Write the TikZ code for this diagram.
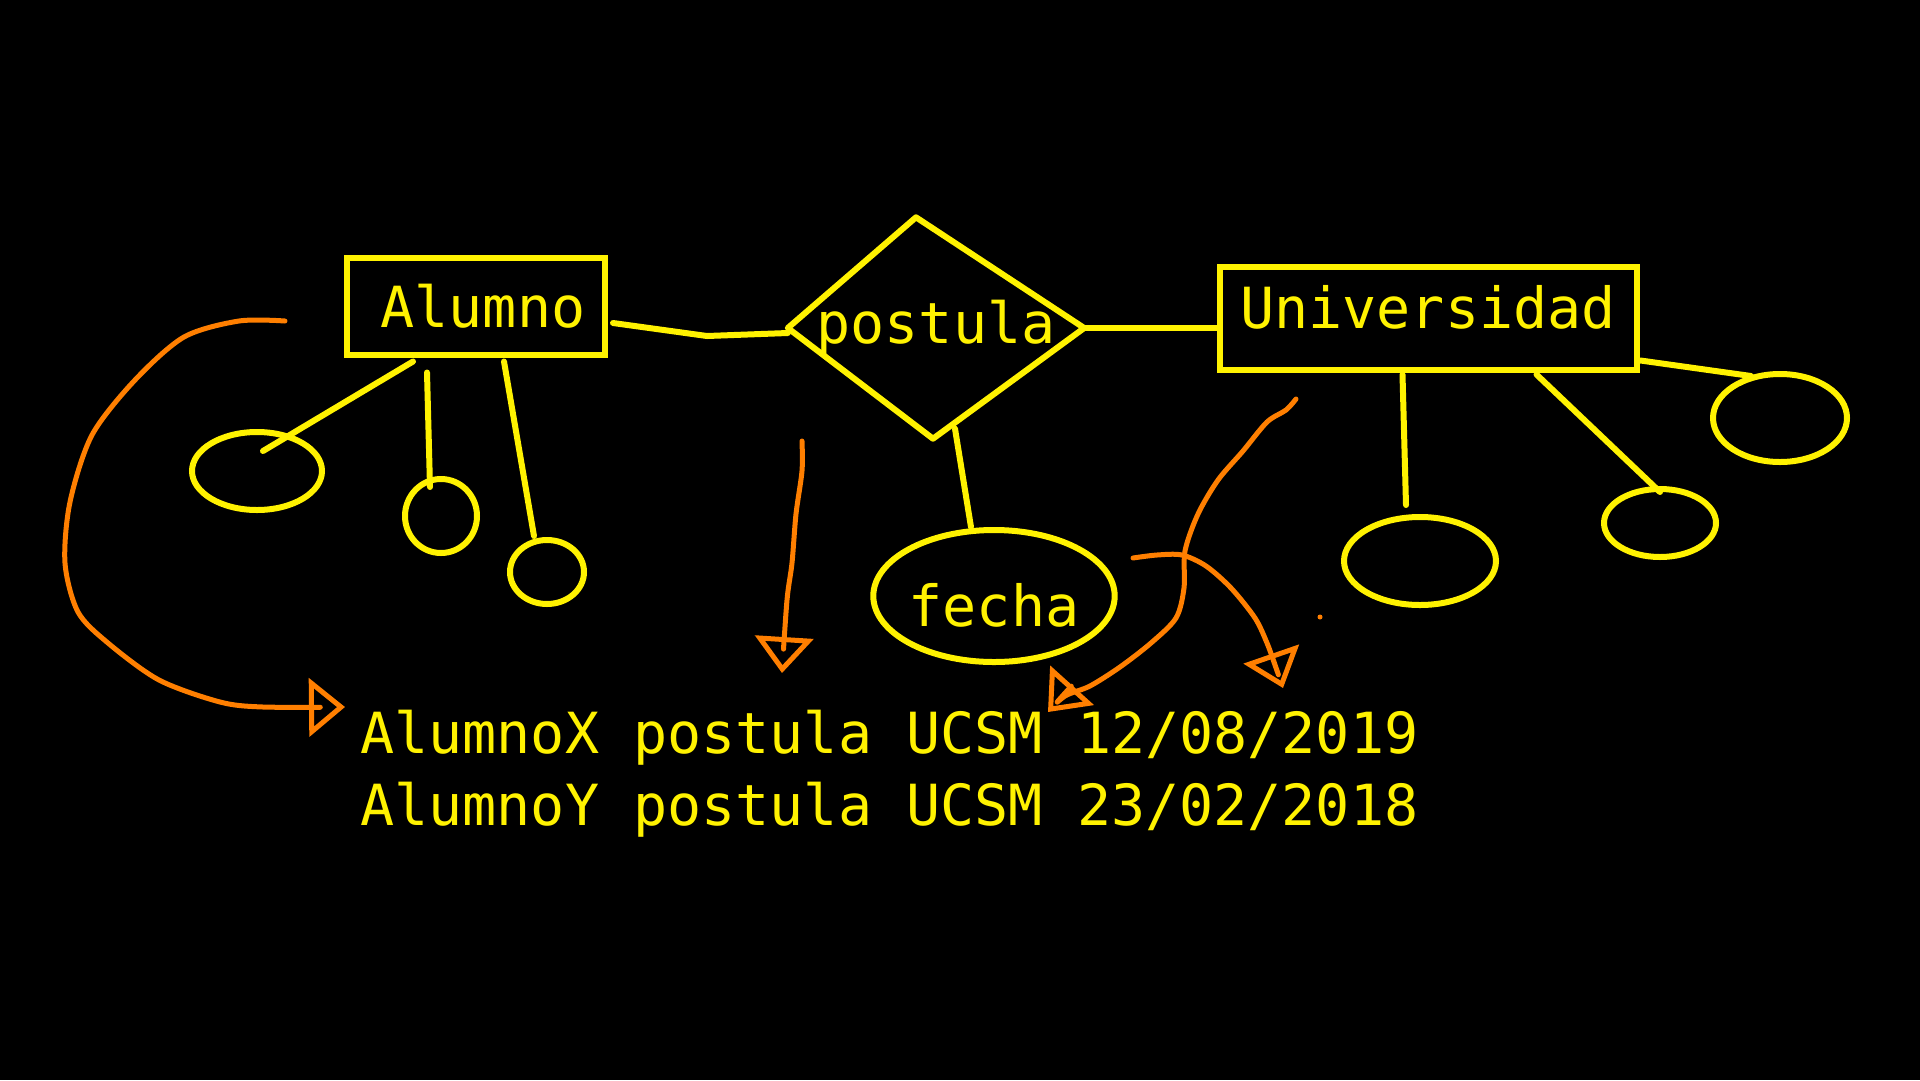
\documentclass[tikz,border=0pt]{standalone}
\usepackage{fontspec}
\setmonofont{DejaVu Sans Mono}
\usetikzlibrary{shapes.geometric,arrows.meta,calc}
\definecolor{chalkyellow}{RGB}{255,242,0}
\definecolor{chalkorange}{RGB}{255,127,0}
\newcommand{\boardfont}{\ttfamily\fontsize{56.7}{68}\selectfont}

\begin{document}
\begin{tikzpicture}[x=1pt, y=-1pt,
    every node/.style={inner sep=0pt, text=chalkyellow, font=\boardfont},
    entity/.style={draw=chalkyellow, line width=6pt, rectangle},
    relation/.style={diamond, aspect=1.3, inner sep=-15pt},
    attrib/.style={draw=chalkyellow, line width=6pt, ellipse},
    link/.style={draw=chalkyellow, line width=6pt, line cap=round, line join=round},
    scribble/.style={draw=chalkorange, line width=5pt, line cap=round, line join=round,
      -{Triangle[open, length=36pt, width=58pt, line width=5pt]}}]
        \fill[black] (0,0) rectangle (1920,1080);
        \useasboundingbox (0,0) rectangle (1920,1080);

        \node[entity, minimum width=258pt, minimum height=97pt] (al) at (476,306) {\hspace*{14pt}Alumno};
        \node[relation, minimum width=296pt, minimum height=221pt] (po) at (936,328) {postula};
        \node[entity, minimum width=417pt, minimum height=103pt, text depth=22pt] (un) at (1428,318) {Universidad};
        \node[attrib, minimum width=230pt, minimum height=132pt, text height=62pt] (fe) at (994,596) {fecha};

        \node[attrib, minimum width=130pt, minimum height=78pt] (a1) at (257,471) {};
        \node[attrib, minimum width=72pt, minimum height=74pt] (a2) at (441,516) {};
        \node[attrib, minimum width=74pt, minimum height=64pt] (a3) at (547,572) {};
        \node[attrib, minimum width=152pt, minimum height=88pt] (u1) at (1420,561) {};
        \node[attrib, minimum width=112pt, minimum height=68pt] (u2) at (1660,523) {};
        \node[attrib, minimum width=134pt, minimum height=88pt] (u3) at (1780,418) {};

        \node[anchor=base west] (r1) at (360,753) {AlumnoX postula UCSM 12/08/2019};
        \node[anchor=base west] (r2) at (360,825) {AlumnoY postula UCSM 23/02/2018};

        \path[link] (po.west) -- ($(po.north)+(-20,0)$) -- (po.east) -- ($(po.south)+(-3,0)$) -- cycle;

        \path[link] ($(al.east)+(5,17)$) -- ++(94,13) -- ($(po.west)+(0,5)$);
        \path[link] (po.east) -- (po.east -| un.west);
        \path[link] ($(po.south)+(19,-10)$) -- ($(fe.north)+(-23,0)$);

        \path[link] ($(al.south west)+(69,4)$) -- ($(a1.center)+(6,-20)$);
        \path[link] ($(al.south west)+(83,15)$) -- ($(a2.north)+(-11,11)$);
        \path[link] ($(al.south west)+(160,4)$) -- ($(a3.north)+(-13,-1)$);

        \path[link] ($(un.south west)+(186,2)$) -- ($(u1.north)+(-14,-9)$);
        \path[link] ($(un.south west)+(320,2)$) -- ($(u2.north)+(0,6)$);
        \path[link] ($(un.south east)+(1,-12)$) -- ($(u3.center)+(-29,-42)$);

        \draw[scribble] plot[smooth] coordinates {(285,321) (239,321) (184,337) (135,380) (92,435)
          (70,502) (65,563) (78,612) (108,643) (159,680) (220,702) (263,707) (345,707)};
        \draw[scribble] plot[smooth] coordinates {(802,441) (802,471) (796,514) (792,563)
          (787,600) (782,673)};
        \draw[scribble] plot[smooth] coordinates {(1296,399) (1286,410) (1267,422) (1243,451)
          (1218,480) (1198,514) (1185,551) (1184,588) (1176,618) (1151,643) (1120,667)
          (1090,686) (1065,696) (1048,712)};
        \draw[scribble] plot[smooth] coordinates {(1133,558) (1157,555) (1182,555) (1206,566)
          (1231,588) (1255,618) (1267,643) (1275,665) (1283,688)};
        \fill[chalkorange] (1320,617) circle (2.5);
\end{tikzpicture}
\end{document}
